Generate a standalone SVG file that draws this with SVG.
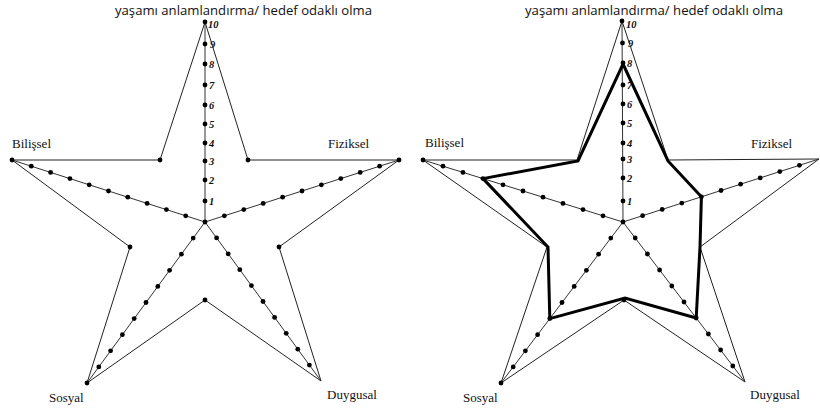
<svg xmlns="http://www.w3.org/2000/svg" width="820" height="410" viewBox="0 0 820 410">
<style>
.bg{fill:#fff}
.outline{fill:none;stroke:#222;stroke-width:1;stroke-linejoin:miter}
.axis{fill:none;stroke:#333;stroke-width:1}
.data{fill:none;stroke:#000;stroke-width:3;stroke-linejoin:miter}
.dot{fill:#000}
.title{font-family:"Open Sans","Noto Sans",sans-serif;font-size:13.5px;fill:#111}
.lbl{font-family:"Liberation Serif",serif;font-size:13px;fill:#111}
.num{font-family:"Liberation Serif",serif;font-size:10.5px;font-style:italic;font-weight:bold;fill:#111}
</style>
<defs>
<circle id="d" r="2.4" class="dot"/>
</defs>
<rect class="bg" width="820" height="410"/>

<g id="left-chart">
<g id="left-star">
<polygon class="outline" points="205,22 248,160 399,160 279,247 321,381 205,300 87,383 130,247 12,160 160,160"/>
</g>
<g id="left-axes">
<line class="axis" x1="205" y1="222" x2="205" y2="22"/>
<line class="axis" x1="205" y1="222" x2="12" y2="160"/>
<line class="axis" x1="205" y1="222" x2="399" y2="160"/>
<line class="axis" x1="205" y1="222" x2="87" y2="383"/>
<line class="axis" x1="205" y1="222" x2="321" y2="381"/>
</g>
<g id="left-dots">
<use href="#d" x="205" y="222"/>
<use href="#d" x="205" y="201"/><use href="#d" x="205" y="180"/><use href="#d" x="205" y="161"/><use href="#d" x="205" y="143"/><use href="#d" x="205" y="124"/><use href="#d" x="205" y="105"/><use href="#d" x="205" y="85"/><use href="#d" x="205" y="64"/><use href="#d" x="205" y="44"/><use href="#d" x="205" y="22"/>
<use href="#d" x="185.7" y="215.8"/><use href="#d" x="166.4" y="209.6"/><use href="#d" x="147.1" y="203.4"/><use href="#d" x="127.8" y="197.2"/><use href="#d" x="108.5" y="191"/><use href="#d" x="89.2" y="184.8"/><use href="#d" x="69.9" y="178.6"/><use href="#d" x="50.6" y="172.4"/><use href="#d" x="31.3" y="166.2"/><use href="#d" x="12" y="160"/>
<use href="#d" x="224.4" y="215.8"/><use href="#d" x="243.8" y="209.6"/><use href="#d" x="263.2" y="203.4"/><use href="#d" x="282.6" y="197.2"/><use href="#d" x="302" y="191"/><use href="#d" x="321.4" y="184.8"/><use href="#d" x="340.8" y="178.6"/><use href="#d" x="360.2" y="172.4"/><use href="#d" x="379.6" y="166.2"/><use href="#d" x="399" y="160"/>
<use href="#d" x="193.2" y="238.1"/><use href="#d" x="181.4" y="254.2"/><use href="#d" x="169.6" y="270.3"/><use href="#d" x="157.8" y="286.4"/><use href="#d" x="146" y="302.5"/><use href="#d" x="134.2" y="318.6"/><use href="#d" x="122.4" y="334.7"/><use href="#d" x="110.6" y="350.8"/><use href="#d" x="98.8" y="366.9"/><use href="#d" x="87" y="383"/>
<use href="#d" x="216.6" y="237.9"/><use href="#d" x="228.2" y="253.8"/><use href="#d" x="239.8" y="269.7"/><use href="#d" x="251.4" y="285.6"/><use href="#d" x="263" y="301.5"/><use href="#d" x="274.6" y="317.4"/><use href="#d" x="286.2" y="333.3"/><use href="#d" x="297.8" y="349.2"/><use href="#d" x="309.4" y="365.1"/>
<use href="#d" x="160" y="160"/><use href="#d" x="248" y="160"/><use href="#d" x="130" y="247"/><use href="#d" x="279" y="247"/><use href="#d" x="205" y="300"/>
</g>
<g id="left-numbers">
<text class="num" x="209" y="204.5">1</text><text class="num" x="209" y="183.5">2</text><text class="num" x="209" y="164.5">3</text><text class="num" x="209" y="146.5">4</text><text class="num" x="209" y="127.5">5</text><text class="num" x="209" y="108.5">6</text><text class="num" x="209" y="88.5">7</text><text class="num" x="209" y="67.5">8</text><text class="num" x="210" y="47.5">9</text><text class="num" x="208" y="28">10</text>
</g>
<g id="left-labels">
<text class="title" x="115" y="15" textLength="257" lengthAdjust="spacingAndGlyphs">yaşamı anlamlandırma/ hedef odaklı olma</text>
<text class="lbl" x="12" y="148">Bilişsel</text>
<text class="lbl" x="328" y="148">Fiziksel</text>
<text class="lbl" x="49" y="402">Sosyal</text>
<text class="lbl" x="327" y="399">Duygusal</text>
</g>
</g>

<g id="right-chart">
<g id="right-star">
<polygon class="outline" points="622,21 668,160 819,159 700,247 745,382 624,300 501,383 547,247 423,160 577,160"/>
</g>
<g id="right-axes">
<line class="axis" x1="623" y1="222" x2="622" y2="21"/>
<line class="axis" x1="623" y1="222" x2="423" y2="160"/>
<line class="axis" x1="623" y1="222" x2="819" y2="159"/>
<line class="axis" x1="623" y1="222" x2="501" y2="383"/>
<line class="axis" x1="623" y1="222" x2="745" y2="382"/>
</g>
<g id="right-dots">
<use href="#d" x="623" y="222"/>
<use href="#d" x="623" y="201"/><use href="#d" x="623" y="178"/><use href="#d" x="623" y="159"/><use href="#d" x="623" y="143"/><use href="#d" x="623" y="123"/><use href="#d" x="623" y="104"/><use href="#d" x="623" y="85"/><use href="#d" x="623" y="63"/><use href="#d" x="622.5" y="43"/><use href="#d" x="622" y="21"/>
<use href="#d" x="603" y="215.8"/><use href="#d" x="583" y="209.6"/><use href="#d" x="563" y="203.4"/><use href="#d" x="543" y="197.2"/><use href="#d" x="523" y="191"/><use href="#d" x="503" y="184.8"/><use href="#d" x="483" y="178.6"/><use href="#d" x="463" y="172.4"/><use href="#d" x="443" y="166.2"/><use href="#d" x="423" y="160"/>
<use href="#d" x="642.6" y="215.7"/><use href="#d" x="662.2" y="209.4"/><use href="#d" x="681.8" y="203.1"/><use href="#d" x="701.4" y="196.8"/><use href="#d" x="721" y="190.5"/><use href="#d" x="740.6" y="184.2"/><use href="#d" x="760.2" y="177.9"/><use href="#d" x="779.8" y="171.6"/><use href="#d" x="799.4" y="165.3"/>
<use href="#d" x="610.8" y="238.1"/><use href="#d" x="598.6" y="254.2"/><use href="#d" x="586.4" y="270.3"/><use href="#d" x="574.2" y="286.4"/><use href="#d" x="562" y="302.5"/><use href="#d" x="549.8" y="318.6"/><use href="#d" x="537.6" y="334.7"/><use href="#d" x="525.4" y="350.8"/><use href="#d" x="513.2" y="366.9"/><use href="#d" x="501" y="383"/>
<use href="#d" x="635.2" y="238"/><use href="#d" x="647.4" y="254"/><use href="#d" x="659.6" y="270"/><use href="#d" x="671.8" y="286"/><use href="#d" x="684" y="302"/><use href="#d" x="696.2" y="318"/><use href="#d" x="708.4" y="334"/><use href="#d" x="720.6" y="350"/><use href="#d" x="732.8" y="366"/>
<use href="#d" x="624" y="300"/>
</g>
<g id="right-data">
<polygon class="data" points="623,64 668,161 701.4,196.8 700,247 696.2,318 625,298 549.8,318.6 548,247 483,178.6 578,161"/>
</g>
<g id="right-numbers">
<text class="num" x="627" y="204.5">1</text><text class="num" x="627" y="181.5">2</text><text class="num" x="627" y="162.5">3</text><text class="num" x="627" y="146.5">4</text><text class="num" x="627" y="126.5">5</text><text class="num" x="627" y="107.5">6</text><text class="num" x="627" y="88.5">7</text><text class="num" x="627" y="66.5">8</text><text class="num" x="628" y="46.5">9</text><text class="num" x="626" y="28">10</text>
</g>
<g id="right-labels">
<text class="title" x="525" y="15" textLength="258" lengthAdjust="spacingAndGlyphs">yaşamı anlamlandırma/ hedef odaklı olma</text>
<text class="lbl" x="425" y="147">Bilişsel</text>
<text class="lbl" x="751" y="148">Fiziksel</text>
<text class="lbl" x="463" y="402">Sosyal</text>
<text class="lbl" x="750" y="399">Duygusal</text>
</g>
</g>
</svg>
